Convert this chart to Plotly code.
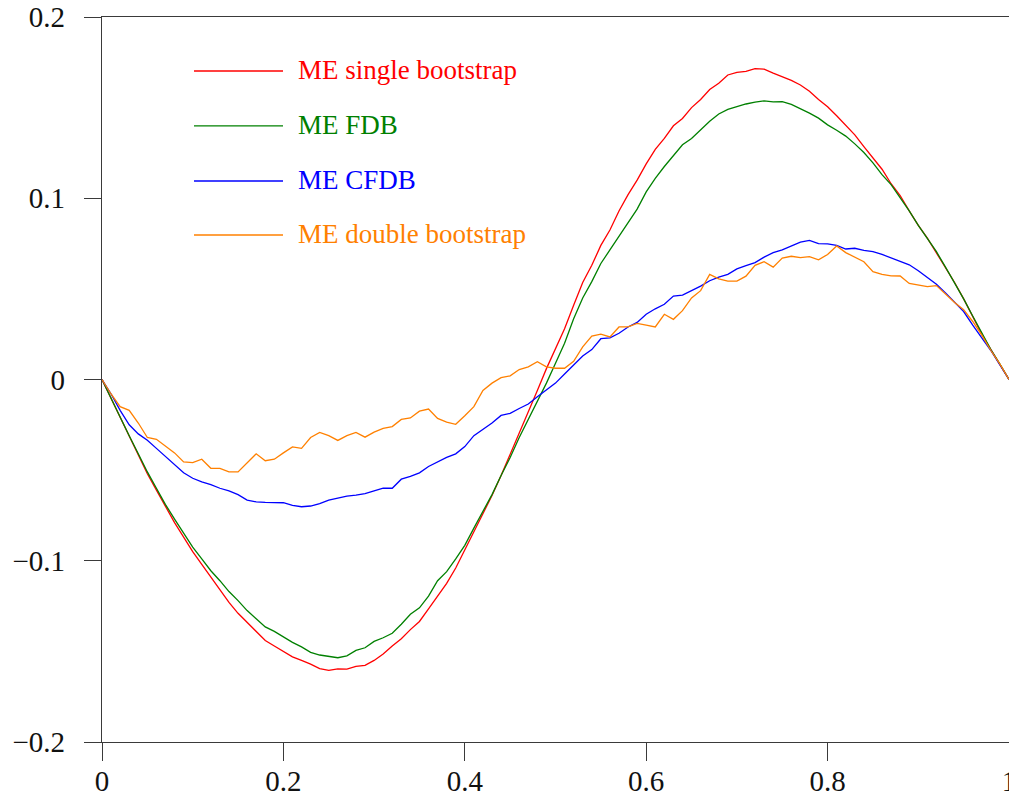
import plotly.graph_objects as go

x = [i / 100 for i in range(101)]

single_bootstrap = [
    0, -0.0105, -0.021, -0.031, -0.042, -0.052, -0.061, -0.070, -0.079, -0.087,
    -0.095, -0.102, -0.109, -0.116, -0.123, -0.129, -0.134, -0.139, -0.144, -0.147,
    -0.150, -0.153, -0.155, -0.157, -0.1595, -0.1605, -0.1597, -0.1598, -0.1583, -0.1577,
    -0.155, -0.1515, -0.147, -0.143, -0.138, -0.1335, -0.1265, -0.1195, -0.1125, -0.104,
    -0.094, -0.0835, -0.074, -0.064, -0.053, -0.0415, -0.029, -0.018, -0.006, 0.006,
    0.017, 0.028, 0.041, 0.0535, 0.063, 0.074, 0.0825, 0.093, 0.102, 0.110,
    0.119, 0.127, 0.133, 0.140, 0.144, 0.150, 0.1545, 0.160, 0.1635, 0.168,
    0.1695, 0.170, 0.1715, 0.1712, 0.169, 0.167, 0.165, 0.1625, 0.159, 0.1545,
    0.1505, 0.1455, 0.1405, 0.135, 0.1285, 0.122, 0.116, 0.108, 0.1015, 0.093,
    0.085, 0.078, 0.070, 0.062, 0.0535, 0.0445, 0.0345, 0.025, 0.0165, 0.0085,
    0,
]

fdb = [
    0, -0.0105, -0.021, -0.031, -0.041, -0.051, -0.060, -0.069, -0.077, -0.085,
    -0.0925, -0.099, -0.1055, -0.111, -0.117, -0.122, -0.1275, -0.132, -0.1365, -0.139,
    -0.142, -0.145, -0.1475, -0.1505, -0.152, -0.1528, -0.1535, -0.1525, -0.1495, -0.148,
    -0.1445, -0.1425, -0.140, -0.135, -0.1295, -0.126, -0.1195, -0.111, -0.106, -0.099,
    -0.0915, -0.082, -0.073, -0.0635, -0.053, -0.043, -0.032, -0.022, -0.012, -0.002,
    0.009, 0.020, 0.0335, 0.045, 0.054, 0.064, 0.0715, 0.079, 0.0865, 0.094,
    0.1035, 0.111, 0.1175, 0.1235, 0.1295, 0.133, 0.138, 0.1425, 0.1465, 0.149,
    0.1505, 0.152, 0.153, 0.1537, 0.1532, 0.1533, 0.1518, 0.1495, 0.147, 0.1442,
    0.1405, 0.1375, 0.1343, 0.130, 0.1252, 0.1195, 0.113, 0.1075, 0.1005, 0.093,
    0.085, 0.078, 0.0705, 0.062, 0.0535, 0.0445, 0.035, 0.0255, 0.0165, 0.0085,
    0,
]

cfdb = [
    0, -0.008, -0.017, -0.025, -0.030, -0.0335, -0.038, -0.0425, -0.047, -0.0515,
    -0.0545, -0.0565, -0.058, -0.060, -0.0615, -0.0635, -0.0665, -0.0675, -0.0678, -0.0678,
    -0.068, -0.0695, -0.0702, -0.0698, -0.0685, -0.0665, -0.0655, -0.0643, -0.0638, -0.063,
    -0.0615, -0.060, -0.060, -0.055, -0.0535, -0.0515, -0.048, -0.0455, -0.043, -0.041,
    -0.037, -0.031, -0.0275, -0.024, -0.0198, -0.0187, -0.016, -0.0135, -0.0095, -0.006,
    -0.002, 0.003, 0.008, 0.013, 0.0165, 0.0225, 0.023, 0.0255, 0.029, 0.0315,
    0.036, 0.039, 0.0415, 0.046, 0.0466, 0.049, 0.0515, 0.0545, 0.0565, 0.058,
    0.061, 0.0628, 0.0645, 0.0675, 0.070, 0.0715, 0.0735, 0.0758, 0.0768, 0.075,
    0.0748, 0.074, 0.072, 0.0724, 0.0713, 0.0706, 0.069, 0.0672, 0.0655, 0.0633,
    0.060, 0.0565, 0.0525, 0.0478, 0.0428, 0.0375, 0.030, 0.0232, 0.016, 0.008,
    0,
]

double_bootstrap = [
    0, -0.008, -0.015, -0.017, -0.024, -0.032, -0.033, -0.037, -0.0405, -0.0455,
    -0.0459, -0.044, -0.049, -0.049, -0.051, -0.051, -0.046, -0.041, -0.0448, -0.044,
    -0.0405, -0.0372, -0.038, -0.032, -0.0292, -0.031, -0.0336, -0.031, -0.0292, -0.0318,
    -0.029, -0.027, -0.026, -0.022, -0.0212, -0.0175, -0.0163, -0.0215, -0.0235, -0.0247,
    -0.020, -0.015, -0.006, -0.002, 0.001, 0.002, 0.0055, 0.007, 0.0098, 0.007,
    0.0062, 0.0062, 0.010, 0.018, 0.024, 0.025, 0.0235, 0.029, 0.029, 0.031,
    0.030, 0.029, 0.036, 0.0332, 0.038, 0.045, 0.049, 0.058, 0.0555, 0.0543,
    0.0543, 0.057, 0.063, 0.065, 0.062, 0.067, 0.068, 0.0672, 0.0678, 0.066,
    0.069, 0.0737, 0.070, 0.0675, 0.065, 0.0595, 0.058, 0.0572, 0.0571, 0.053,
    0.052, 0.0512, 0.0518, 0.047, 0.0425, 0.0385, 0.032, 0.0245, 0.016, 0.0085,
    0,
]

series_names = ["ME single bootstrap", "ME FDB", "ME CFDB", "ME double bootstrap"]
series_values = [single_bootstrap, fdb, cfdb, double_bootstrap]
series_colors = ["#ff0000", "#008000", "#0000ff", "#ff8000"]

x_tickvals = [0, 0.2, 0.4, 0.6, 0.8, 1]
x_ticktext = ["0", "0.2", "0.4", "0.6", "0.8", "1"]
y_tickvals = [-0.2, -0.1, 0, 0.1, 0.2]
y_ticktext = ["\u22120.2", "\u22120.1", "0", "0.1", "0.2"]

FONT = "Liberation Serif"

fig = go.Figure()
for name, vals, col in zip(series_names, series_values, series_colors):
    fig.add_trace(go.Scatter(x=x, y=vals, mode="lines", name=name,
                             line=dict(color=col, width=1.3), showlegend=False))

# custom legend (long sample lines, coloured text)
legend_rows_y = [0.9255, 0.8497, 0.7738, 0.6993]
for name, col, yy in zip(series_names, series_colors, legend_rows_y):
    fig.add_shape(type="line", xref="paper", yref="paper",
                  x0=0.1014, x1=0.1996, y0=yy, y1=yy,
                  line=dict(color=col, width=1.3))
    fig.add_annotation(xref="paper", yref="paper", x=0.2139, y=yy + 0.002,
                       text=name, showarrow=False, xanchor="left", yanchor="middle",
                       font=dict(family=FONT, size=27, color=col))

axis_common = dict(showline=True, linecolor="#3a3a3a", linewidth=1.3, mirror=True,
                   showgrid=False, zeroline=False, ticks="outside",
                   tickcolor="#3a3a3a", tickwidth=1.3, automargin=False,
                   ticklabeloverflow="allow",
                   tickfont=dict(family=FONT, size=29, color="#111111"))

fig.update_xaxes(range=[0, 1], tickvals=x_tickvals, ticktext=x_ticktext,
                 ticklen=18, ticklabelstandoff=-5, **axis_common)
fig.update_yaxes(range=[-0.2, 0.2], tickvals=y_tickvals, ticktext=y_ticktext,
                 ticklen=17, ticklabelstandoff=13, **axis_common)

# page body has an 8px margin, so margins are reduced by 8px on the top/left
fig.update_layout(width=1017, height=797,
                  margin=dict(l=94, r=16, t=9, b=63, pad=0, autoexpand=False),
                  plot_bgcolor="white", paper_bgcolor="white",
                  font=dict(family=FONT))

fig.write_html("out.html")
